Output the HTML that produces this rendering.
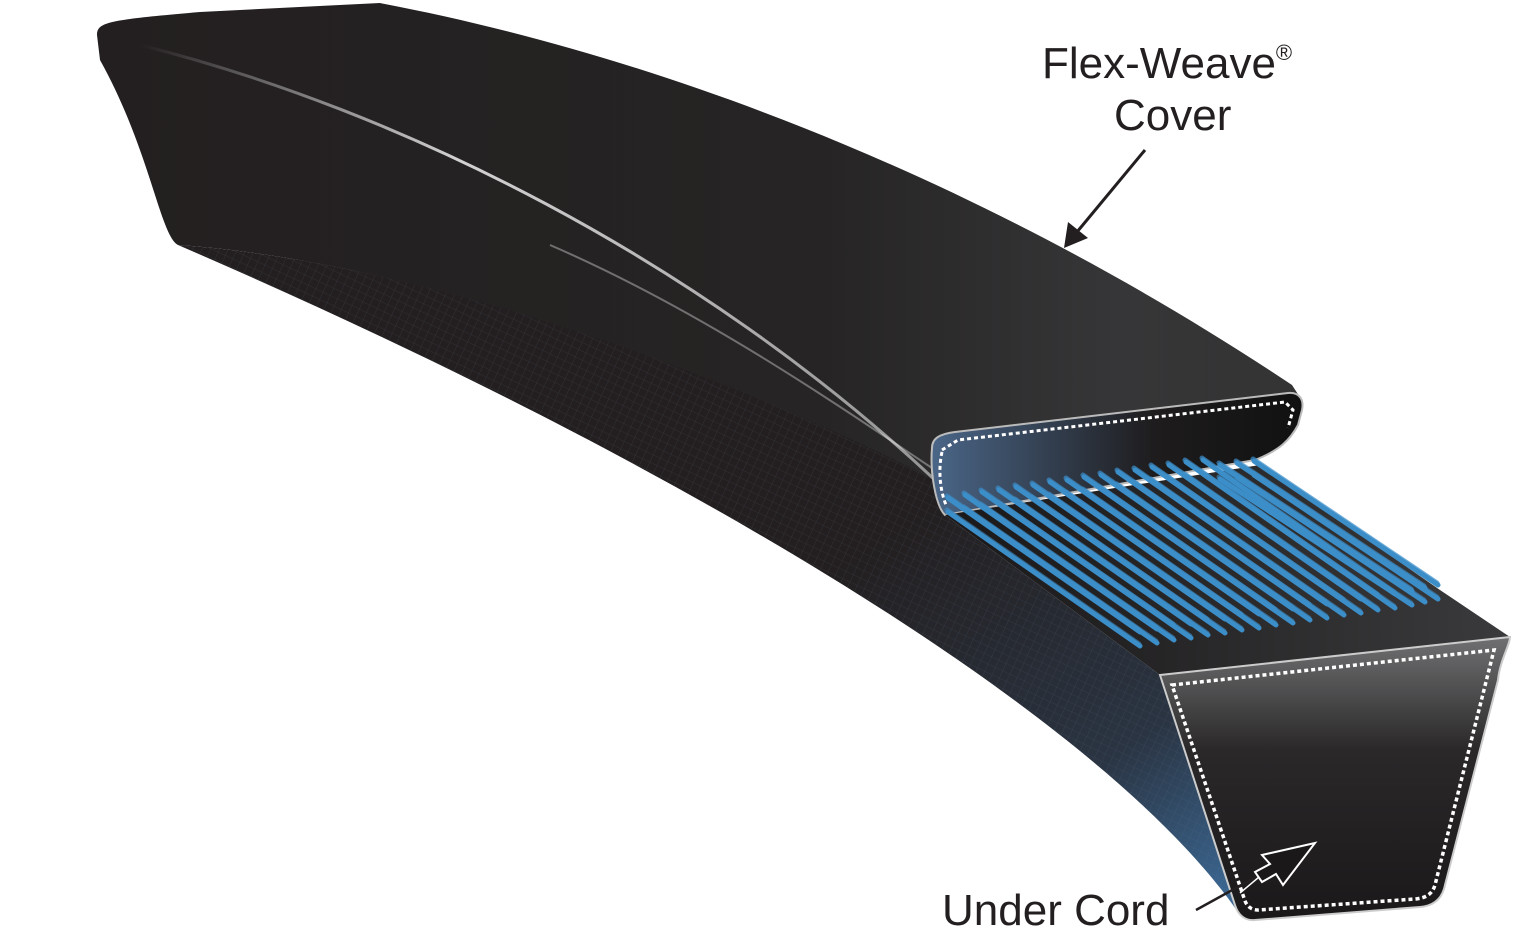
<!DOCTYPE html>
<html><head><meta charset="utf-8"><style>
html,body{margin:0;padding:0;background:#fff;width:1514px;height:937px;overflow:hidden}
svg{display:block}
text{font-family:"Liberation Sans",sans-serif;fill:#231f20}
</style></head><body>
<svg width="1514" height="937" viewBox="0 0 1514 937" xmlns="http://www.w3.org/2000/svg">
<defs>
<linearGradient id="side" x1="0" y1="0" x2="1" y2="1">
<stop offset="0.55" stop-color="#231f20"/><stop offset="0.82" stop-color="#2a3442"/><stop offset="1" stop-color="#3d6d9c"/>
</linearGradient>
<linearGradient id="top" x1="0" y1="0" x2="1" y2="0">
<stop offset="0" stop-color="#231f20"/><stop offset="0.6" stop-color="#262424"/><stop offset="0.85" stop-color="#363638"/><stop offset="1" stop-color="#333"/>
</linearGradient>
<linearGradient id="cut1" x1="0" y1="0" x2="1" y2="0">
<stop offset="0" stop-color="#4a6688"/><stop offset="0.6" stop-color="#1e1c1d"/><stop offset="1" stop-color="#111"/>
</linearGradient>
<linearGradient id="cut2" x1="0" y1="0" x2="0" y2="1">
<stop offset="0" stop-color="#707072"/><stop offset="0.4" stop-color="#2a2829"/><stop offset="1" stop-color="#1a1819"/>
</linearGradient>
<linearGradient id="plane" x1="0" y1="0" x2="1" y2="0">
<stop offset="0" stop-color="#1a1819"/><stop offset="1" stop-color="#3a3a3c"/>
</linearGradient>
<linearGradient id="hl" x1="0" y1="0" x2="1" y2="0">
<stop offset="0" stop-color="#fff" stop-opacity="0"/><stop offset="0.4" stop-color="#fff" stop-opacity="0.8"/><stop offset="1" stop-color="#fff" stop-opacity="0.5"/>
</linearGradient>
<pattern id="weave" width="8" height="8" patternUnits="userSpaceOnUse" patternTransform="rotate(25)">
<path d="M0 0H8M0 0V8" stroke="#6a7f99" stroke-width="0.6" opacity="0.5"/>
</pattern>
</defs>

<path d="M97,35 C97,22 108,20 200,12 L380,3 C680,60 1000,190 1292,385 L1303,402 L1298,425 L930,490 C700,360 400,260 178,245 C160,235 150,150 100,60 Z" fill="url(#top)"/>
<path d="M178,245 C400,260 700,360 935,480 L945,515 L1160,675 L1240,915 L1233,905 C1100,720 700,470 178,245 Z" fill="url(#side)"/>
<path d="M178,245 C400,260 700,360 935,480 L945,515 L1160,675 L1240,915 L1233,905 C1100,720 700,470 178,245 Z" fill="url(#weave)" opacity="0.6"/>

<path d="M140,45 C400,110 700,260 935,480" stroke="url(#hl)" stroke-width="3" fill="none"/>
<path d="M550,245 C700,310 830,400 935,470" stroke="#fff" stroke-opacity="0.35" stroke-width="2" fill="none"/>

<path d="M932,448 C932,438 940,434 955,432 L1288,393 C1300,392 1304,400 1302,410 L1298,425 C1290,440 1280,450 1255,460 L945,515 C935,505 930,470 932,448 Z" fill="url(#cut1)" stroke="#bbb" stroke-width="2"/>
<path d="M942,450 L958,440 L1285,402 L1293,410 L1288,428" fill="none" stroke="#fff" stroke-width="3" stroke-dasharray="4,3"/>
<path d="M942,452 C938,470 940,490 946,505" fill="none" stroke="#fff" stroke-width="3" stroke-dasharray="4,3"/>

<path d="M945,515 L1260,465 L1440,590 L1510,637 L1160,675 Z" fill="url(#plane)"/>

<g stroke-linecap="round">
<g id="cords" stroke="#3c8ec9" stroke-width="5">
<line x1="948" y1="498" x2="1140" y2="632"/><line x1="965" y1="495" x2="1157" y2="629"/>
<line x1="982" y1="492" x2="1174" y2="626"/><line x1="999" y1="490" x2="1191" y2="624"/>
<line x1="1016" y1="487" x2="1208" y2="621"/><line x1="1033" y1="485" x2="1225" y2="619"/>
<line x1="1050" y1="482" x2="1242" y2="616"/><line x1="1067" y1="480" x2="1259" y2="614"/>
<line x1="1084" y1="477" x2="1276" y2="611"/><line x1="1101" y1="475" x2="1293" y2="609"/>
<line x1="1118" y1="472" x2="1310" y2="606"/><line x1="1135" y1="470" x2="1327" y2="604"/>
<line x1="1152" y1="467" x2="1344" y2="601"/><line x1="1169" y1="465" x2="1361" y2="599"/>
<line x1="1186" y1="462" x2="1378" y2="596"/><line x1="1203" y1="460" x2="1395" y2="594"/>
<line x1="1220" y1="465" x2="1412" y2="591"/><line x1="1237" y1="463" x2="1425" y2="588"/>
<line x1="1254" y1="461" x2="1438" y2="585"/>
</g>
<g transform="translate(-1,-2)" opacity="0.7"><use href="#cords" stroke="#8fd0f5" stroke-width="1.5"/></g>
<g transform="translate(0,14)"><use href="#cords" stroke="#2c6fa3" stroke-width="4"/></g>
<g transform="translate(-1,12)" opacity="0.6"><use href="#cords" stroke="#8fd0f5" stroke-width="1"/></g>
</g>

<path d="M1160,675 L1510,637 C1510,645 1500,660 1498,680 L1445,885 C1442,900 1432,906 1420,907 L1255,920 C1245,921 1238,915 1235,905 Z" fill="url(#cut2)" stroke="#ccc" stroke-width="2"/>
<path d="M1172,685 L1494,650 L1435,885 C1432,895 1425,898 1415,899 L1258,910 C1250,910 1246,905 1244,898 Z" fill="none" stroke="#fff" stroke-width="3.5" stroke-dasharray="4,3"/>

<text x="1042" y="78" font-size="44">Flex-Weave<tspan font-size="22" dy="-18">®</tspan></text>
<text x="1114" y="130" font-size="44">Cover</text>
<line x1="1145" y1="150" x2="1072" y2="238" stroke="#231f20" stroke-width="3"/>
<path d="M1064,248 L1068,222 L1088,238 Z" fill="#231f20"/>

<text x="942" y="925" font-size="44">Under Cord</text>
<line x1="1196" y1="910" x2="1265" y2="872" stroke="#231f20" stroke-width="2.5"/>
<line x1="1240" y1="893" x2="1265" y2="872" stroke="#fff" stroke-width="1.5"/>
<path d="M1315,843 L1262,855 L1270,864 L1255,872 L1262,882 L1276,874 L1283,885 Z" fill="#1a1819" stroke="#fff" stroke-width="2"/>
</svg>
</body></html>
